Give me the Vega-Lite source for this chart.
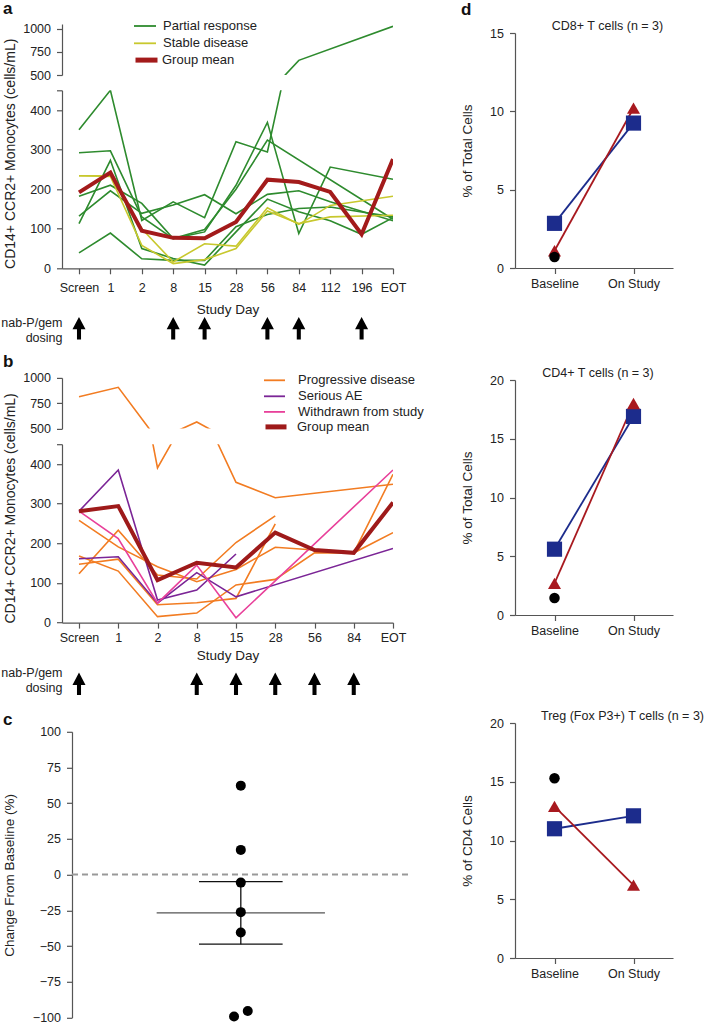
{
  "$schema": "https://vega.github.io/schema/vega-lite/v6.json",
  "padding": 0,
  "config": {
    "font": "Liberation Sans",
    "view": {"stroke": null},
    "axis": {"labelFontSize": 12.5, "titleFontSize": 13.5, "titleFontWeight": "normal", "labelColor": "#222", "titleColor": "#222", "domainColor": "#555", "tickColor": "#555", "tickSize": 5.5, "labelPadding": 6, "grid": false, "domainWidth": 1.2, "tickWidth": 1.2},
    "title": {"fontSize": 17, "fontWeight": "bold", "color": "#111"},
    "legend": {"labelFontSize": 13, "labelColor": "#222"}
  },
  "datasets": {
    "a": [
      {"pid": "PR1", "group": "Partial response", "day": "Screen", "value": 350},
      {"pid": "PR1", "group": "Partial response", "day": "1", "value": 450},
      {"pid": "PR1", "group": "Partial response", "day": "2", "value": 121},
      {"pid": "PR1", "group": "Partial response", "day": "8", "value": 168},
      {"pid": "PR1", "group": "Partial response", "day": "15", "value": 128},
      {"pid": "PR1", "group": "Partial response", "day": "28", "value": 320},
      {"pid": "PR1", "group": "Partial response", "day": "56", "value": 294},
      {"pid": "PR1", "group": "Partial response", "day": "84", "value": 658},
      {"pid": "PR1", "group": "Partial response", "day": "EOT", "value": 1025},
      {"pid": "PR2", "group": "Partial response", "day": "Screen", "value": 292},
      {"pid": "PR2", "group": "Partial response", "day": "1", "value": 297},
      {"pid": "PR2", "group": "Partial response", "day": "2", "value": 130},
      {"pid": "PR2", "group": "Partial response", "day": "8", "value": 75},
      {"pid": "PR2", "group": "Partial response", "day": "15", "value": 92},
      {"pid": "PR2", "group": "Partial response", "day": "28", "value": 210},
      {"pid": "PR2", "group": "Partial response", "day": "56", "value": 369},
      {"pid": "PR2", "group": "Partial response", "day": "84", "value": 88},
      {"pid": "PR2", "group": "Partial response", "day": "112", "value": 256},
      {"pid": "PR2", "group": "Partial response", "day": "EOT", "value": 225},
      {"pid": "PR3", "group": "Partial response", "day": "Screen", "value": 182},
      {"pid": "PR3", "group": "Partial response", "day": "1", "value": 210},
      {"pid": "PR3", "group": "Partial response", "day": "2", "value": 164},
      {"pid": "PR3", "group": "Partial response", "day": "8", "value": 75},
      {"pid": "PR3", "group": "Partial response", "day": "15", "value": 98},
      {"pid": "PR3", "group": "Partial response", "day": "28", "value": 200},
      {"pid": "PR3", "group": "Partial response", "day": "56", "value": 324},
      {"pid": "PR3", "group": "Partial response", "day": "EOT", "value": 124},
      {"pid": "PR4", "group": "Partial response", "day": "Screen", "value": 132},
      {"pid": "PR4", "group": "Partial response", "day": "1", "value": 196},
      {"pid": "PR4", "group": "Partial response", "day": "2", "value": 139},
      {"pid": "PR4", "group": "Partial response", "day": "8", "value": 160},
      {"pid": "PR4", "group": "Partial response", "day": "15", "value": 186},
      {"pid": "PR4", "group": "Partial response", "day": "28", "value": 138},
      {"pid": "PR4", "group": "Partial response", "day": "56", "value": 187},
      {"pid": "PR4", "group": "Partial response", "day": "84", "value": 196},
      {"pid": "PR4", "group": "Partial response", "day": "112", "value": 168},
      {"pid": "PR4", "group": "Partial response", "day": "EOT", "value": 120},
      {"pid": "PR5", "group": "Partial response", "day": "Screen", "value": 113},
      {"pid": "PR5", "group": "Partial response", "day": "1", "value": 273},
      {"pid": "PR5", "group": "Partial response", "day": "2", "value": 50},
      {"pid": "PR5", "group": "Partial response", "day": "8", "value": 25},
      {"pid": "PR5", "group": "Partial response", "day": "15", "value": 8},
      {"pid": "PR5", "group": "Partial response", "day": "28", "value": 92},
      {"pid": "PR5", "group": "Partial response", "day": "56", "value": 175},
      {"pid": "PR5", "group": "Partial response", "day": "84", "value": 143},
      {"pid": "PR5", "group": "Partial response", "day": "112", "value": 120},
      {"pid": "PR5", "group": "Partial response", "day": "196", "value": 86},
      {"pid": "PR5", "group": "Partial response", "day": "EOT", "value": 128},
      {"pid": "PR6", "group": "Partial response", "day": "Screen", "value": 39},
      {"pid": "PR6", "group": "Partial response", "day": "1", "value": 89},
      {"pid": "PR6", "group": "Partial response", "day": "2", "value": 24},
      {"pid": "PR6", "group": "Partial response", "day": "8", "value": 20},
      {"pid": "PR6", "group": "Partial response", "day": "15", "value": 20},
      {"pid": "PR6", "group": "Partial response", "day": "28", "value": 105},
      {"pid": "PR6", "group": "Partial response", "day": "56", "value": 136},
      {"pid": "PR6", "group": "Partial response", "day": "84", "value": 151},
      {"pid": "PR6", "group": "Partial response", "day": "112", "value": 155},
      {"pid": "PR6", "group": "Partial response", "day": "EOT", "value": 130},
      {"pid": "SD1", "group": "Stable disease", "day": "Screen", "value": 234},
      {"pid": "SD1", "group": "Stable disease", "day": "1", "value": 234},
      {"pid": "SD1", "group": "Stable disease", "day": "2", "value": 100},
      {"pid": "SD1", "group": "Stable disease", "day": "8", "value": 16},
      {"pid": "SD1", "group": "Stable disease", "day": "15", "value": 62},
      {"pid": "SD1", "group": "Stable disease", "day": "28", "value": 56},
      {"pid": "SD1", "group": "Stable disease", "day": "56", "value": 153},
      {"pid": "SD1", "group": "Stable disease", "day": "84", "value": 111},
      {"pid": "SD1", "group": "Stable disease", "day": "112", "value": 159},
      {"pid": "SD1", "group": "Stable disease", "day": "EOT", "value": 182},
      {"pid": "SD2", "group": "Stable disease", "day": "Screen", "value": 234},
      {"pid": "SD2", "group": "Stable disease", "day": "1", "value": 232},
      {"pid": "SD2", "group": "Stable disease", "day": "2", "value": 58},
      {"pid": "SD2", "group": "Stable disease", "day": "8", "value": 12},
      {"pid": "SD2", "group": "Stable disease", "day": "15", "value": 22},
      {"pid": "SD2", "group": "Stable disease", "day": "28", "value": 50},
      {"pid": "SD2", "group": "Stable disease", "day": "56", "value": 145},
      {"pid": "SD2", "group": "Stable disease", "day": "84", "value": 113},
      {"pid": "SD2", "group": "Stable disease", "day": "112", "value": 130},
      {"pid": "SD2", "group": "Stable disease", "day": "EOT", "value": 134},
      {"pid": "MEAN", "group": "Group mean", "day": "Screen", "value": 192},
      {"pid": "MEAN", "group": "Group mean", "day": "1", "value": 242},
      {"pid": "MEAN", "group": "Group mean", "day": "2", "value": 95},
      {"pid": "MEAN", "group": "Group mean", "day": "8", "value": 77},
      {"pid": "MEAN", "group": "Group mean", "day": "15", "value": 76},
      {"pid": "MEAN", "group": "Group mean", "day": "28", "value": 117},
      {"pid": "MEAN", "group": "Group mean", "day": "56", "value": 224},
      {"pid": "MEAN", "group": "Group mean", "day": "84", "value": 218},
      {"pid": "MEAN", "group": "Group mean", "day": "112", "value": 193},
      {"pid": "MEAN", "group": "Group mean", "day": "196", "value": 86},
      {"pid": "MEAN", "group": "Group mean", "day": "EOT", "value": 276}
    ],
    "b": [
      {"pid": "PD1", "group": "Progressive disease", "day": "Screen", "value": 815},
      {"pid": "PD1", "group": "Progressive disease", "day": "1", "value": 907},
      {"pid": "PD1", "group": "Progressive disease", "day": "2", "value": 390},
      {"pid": "PD1", "group": "Progressive disease", "day": "8", "value": 565},
      {"pid": "PD1", "group": "Progressive disease", "day": "15", "value": 354},
      {"pid": "PD1", "group": "Progressive disease", "day": "28", "value": 315},
      {"pid": "PD1", "group": "Progressive disease", "day": "EOT", "value": 349},
      {"pid": "PD2", "group": "Progressive disease", "day": "Screen", "value": 258},
      {"pid": "PD2", "group": "Progressive disease", "day": "1", "value": 191},
      {"pid": "PD2", "group": "Progressive disease", "day": "2", "value": 141},
      {"pid": "PD2", "group": "Progressive disease", "day": "8", "value": 103},
      {"pid": "PD2", "group": "Progressive disease", "day": "15", "value": 134},
      {"pid": "PD2", "group": "Progressive disease", "day": "28", "value": 190},
      {"pid": "PD2", "group": "Progressive disease", "day": "56", "value": 183},
      {"pid": "PD2", "group": "Progressive disease", "day": "84", "value": 176},
      {"pid": "PD2", "group": "Progressive disease", "day": "EOT", "value": 374},
      {"pid": "PD3", "group": "Progressive disease", "day": "Screen", "value": 123},
      {"pid": "PD3", "group": "Progressive disease", "day": "1", "value": 233},
      {"pid": "PD3", "group": "Progressive disease", "day": "2", "value": 120},
      {"pid": "PD3", "group": "Progressive disease", "day": "8", "value": 110},
      {"pid": "PD3", "group": "Progressive disease", "day": "15", "value": 202},
      {"pid": "PD3", "group": "Progressive disease", "day": "28", "value": 269},
      {"pid": "PD4", "group": "Progressive disease", "day": "Screen", "value": 147},
      {"pid": "PD4", "group": "Progressive disease", "day": "1", "value": 160},
      {"pid": "PD4", "group": "Progressive disease", "day": "2", "value": 45},
      {"pid": "PD4", "group": "Progressive disease", "day": "8", "value": 50},
      {"pid": "PD4", "group": "Progressive disease", "day": "15", "value": 61},
      {"pid": "PD4", "group": "Progressive disease", "day": "28", "value": 249},
      {"pid": "PD5", "group": "Progressive disease", "day": "Screen", "value": 168},
      {"pid": "PD5", "group": "Progressive disease", "day": "1", "value": 130},
      {"pid": "PD5", "group": "Progressive disease", "day": "2", "value": 15},
      {"pid": "PD5", "group": "Progressive disease", "day": "8", "value": 24},
      {"pid": "PD5", "group": "Progressive disease", "day": "15", "value": 95},
      {"pid": "PD5", "group": "Progressive disease", "day": "28", "value": 109},
      {"pid": "PD5", "group": "Progressive disease", "day": "56", "value": 176},
      {"pid": "PD5", "group": "Progressive disease", "day": "84", "value": 176},
      {"pid": "PD5", "group": "Progressive disease", "day": "EOT", "value": 227},
      {"pid": "SAE1", "group": "Serious AE", "day": "Screen", "value": 281},
      {"pid": "SAE1", "group": "Serious AE", "day": "1", "value": 385},
      {"pid": "SAE1", "group": "Serious AE", "day": "2", "value": 57},
      {"pid": "SAE1", "group": "Serious AE", "day": "8", "value": 82},
      {"pid": "SAE1", "group": "Serious AE", "day": "15", "value": 173},
      {"pid": "SAE2", "group": "Serious AE", "day": "Screen", "value": 161},
      {"pid": "SAE2", "group": "Serious AE", "day": "1", "value": 166},
      {"pid": "SAE2", "group": "Serious AE", "day": "2", "value": 49},
      {"pid": "SAE2", "group": "Serious AE", "day": "8", "value": 126},
      {"pid": "SAE2", "group": "Serious AE", "day": "15", "value": 65},
      {"pid": "SAE2", "group": "Serious AE", "day": "EOT", "value": 187},
      {"pid": "WD1", "group": "Withdrawn from study", "day": "Screen", "value": 281},
      {"pid": "WD1", "group": "Withdrawn from study", "day": "1", "value": 212},
      {"pid": "WD1", "group": "Withdrawn from study", "day": "2", "value": 49},
      {"pid": "WD1", "group": "Withdrawn from study", "day": "8", "value": 145},
      {"pid": "WD1", "group": "Withdrawn from study", "day": "15", "value": 12},
      {"pid": "WD1", "group": "Withdrawn from study", "day": "EOT", "value": 385},
      {"pid": "MEAN", "group": "Group mean", "day": "Screen", "value": 281},
      {"pid": "MEAN", "group": "Group mean", "day": "1", "value": 294},
      {"pid": "MEAN", "group": "Group mean", "day": "2", "value": 107},
      {"pid": "MEAN", "group": "Group mean", "day": "8", "value": 151},
      {"pid": "MEAN", "group": "Group mean", "day": "15", "value": 139},
      {"pid": "MEAN", "group": "Group mean", "day": "28", "value": 227},
      {"pid": "MEAN", "group": "Group mean", "day": "56", "value": 183},
      {"pid": "MEAN", "group": "Group mean", "day": "84", "value": 176},
      {"pid": "MEAN", "group": "Group mean", "day": "EOT", "value": 303}
    ],
    "dose_a": [{"day": "Screen"}, {"day": "8"}, {"day": "15"}, {"day": "56"}, {"day": "84"}, {"day": "196"}],
    "dose_b": [{"day": "Screen"}, {"day": "8"}, {"day": "15"}, {"day": "28"}, {"day": "56"}, {"day": "84"}],
    "c_pts": [
      {"pct": 62.3, "jit": 0}, {"pct": 17.3, "jit": 0}, {"pct": -5.6, "jit": 0}, {"pct": -26.3, "jit": 0},
      {"pct": -40.6, "jit": 0}, {"pct": -99.4, "jit": -0.039}, {"pct": -95.5, "jit": 0.04}
    ],
    "c_mean": [{"stat": "mean", "x1": -0.485, "x2": 0.485, "y1": -26.8, "y2": -26.8}],
    "c_err": [
      {"stat": "upper cap", "x1": -0.241, "x2": 0.241, "y1": -4.9, "y2": -4.9},
      {"stat": "lower cap", "x1": -0.241, "x2": 0.241, "y1": -48.7, "y2": -48.7},
      {"stat": "whisker", "x1": 0, "x2": 0, "y1": -48.7, "y2": -4.9}
    ],
    "d": [
      {"panel": "CD8", "subject": "P3", "time": "Baseline", "pct": 2.85},
      {"panel": "CD8", "subject": "P3", "time": "On Study", "pct": 9.25},
      {"panel": "CD8", "subject": "P2", "time": "Baseline", "pct": 1.1},
      {"panel": "CD8", "subject": "P2", "time": "On Study", "pct": 10.2},
      {"panel": "CD8", "subject": "P1", "time": "Baseline", "pct": 0.7},
      {"panel": "CD4", "subject": "P3", "time": "Baseline", "pct": 5.6},
      {"panel": "CD4", "subject": "P3", "time": "On Study", "pct": 16.9},
      {"panel": "CD4", "subject": "P2", "time": "Baseline", "pct": 2.7},
      {"panel": "CD4", "subject": "P2", "time": "On Study", "pct": 18.0},
      {"panel": "CD4", "subject": "P1", "time": "Baseline", "pct": 1.45},
      {"panel": "Treg", "subject": "P3", "time": "Baseline", "pct": 11.0},
      {"panel": "Treg", "subject": "P3", "time": "On Study", "pct": 12.1},
      {"panel": "Treg", "subject": "P2", "time": "Baseline", "pct": 12.9},
      {"panel": "Treg", "subject": "P2", "time": "On Study", "pct": 6.2},
      {"panel": "Treg", "subject": "P1", "time": "Baseline", "pct": 15.3}
    ]
  },
  "hconcat": [
    {
      "bounds": "flush",
      "spacing": 15.3,
      "resolve": {"scale": {"x": "independent", "y": "independent", "color": "independent"}},
      "vconcat": [
        {
          "width": 331, "height": 51,
          "title": {"text": "a", "anchor": "start", "frame": "group", "dx": -59, "offset": -4},
          "data": {"name": "a"},
          "encoding": {
            "x": {"field": "day", "type": "ordinal", "sort": ["Screen","1","2","8","15","28","56","84","112","196","EOT"], "scale": {"type": "point", "domain": ["Screen","1","2","8","15","28","56","84","112","196","EOT"], "padding": 0.2707, "align": 1}, "axis": null},
            "y": {"field": "value", "type": "quantitative", "scale": {"domain": [500, 1050], "nice": false, "zero": false}, "axis": {"values": [500, 750, 1000], "format": "d", "title": null}}
          },
          "layer": [
            {"transform": [{"filter": "datum.group === 'Partial response'"}], "mark": {"type": "line", "clip": true, "strokeWidth": 1.6},
             "encoding": {"detail": {"field": "pid", "type": "nominal"},
               "color": {"field": "group", "type": "nominal", "scale": {"domain": ["Partial response"], "range": ["#2e8b2e"]}, "legend": {"orient": "none", "legendX": 71, "legendY": -10, "title": null, "symbolType": "stroke", "symbolSize": 484, "symbolStrokeWidth": 1.8, "labelFontSize": 13, "labelOffset": 6, "padding": 0}}}},
            {"transform": [{"filter": "datum.group === 'Stable disease'"}], "mark": {"type": "line", "clip": true, "strokeWidth": 1.6},
             "encoding": {"detail": {"field": "pid", "type": "nominal"},
               "color": {"field": "group", "type": "nominal", "scale": {"domain": ["Stable disease"], "range": ["#c8c82e"]}, "legend": {"orient": "none", "legendX": 71, "legendY": 7.3, "title": null, "symbolType": "stroke", "symbolSize": 484, "symbolStrokeWidth": 1.8, "labelFontSize": 13, "labelOffset": 6, "padding": 0}}}},
            {"transform": [{"filter": "datum.group === 'Group mean'"}], "mark": {"type": "line", "clip": true, "strokeWidth": 4},
             "encoding": {
               "color": {"field": "group", "type": "nominal", "scale": {"domain": ["Group mean"], "range": ["#a31b1b"]}, "legend": {"orient": "none", "legendX": 71, "legendY": 22.6, "title": null, "symbolType": "stroke", "symbolSize": 484, "symbolStrokeWidth": 5, "labelFontSize": 13, "labelOffset": 2, "padding": 0}}}}
          ],
          "resolve": {"scale": {"color": "independent"}}
        },
        {
          "width": 331, "height": 178,
          "data": {"name": "a"},
          "encoding": {
            "x": {"field": "day", "type": "ordinal", "sort": ["Screen","1","2","8","15","28","56","84","112","196","EOT"], "scale": {"type": "point", "domain": ["Screen","1","2","8","15","28","56","84","112","196","EOT"], "padding": 0.2707, "align": 1}, "axis": {"title": "Study Day", "labelAngle": 0, "labelPadding": 7.8, "titlePadding": 8}},
            "y": {"field": "value", "type": "quantitative", "scale": {"domain": [0, 450], "nice": false}, "axis": {"values": [0, 100, 200, 300, 400, 450], "labelExpr": "datum.value == 450 ? '' : datum.label", "title": "CD14+ CCR2+ Monocytes (cells/mL)", "titleFontSize": 14, "titleX": -45, "titleY": 63}}
          },
          "layer": [
            {"transform": [{"filter": "datum.group !== 'Group mean'"}], "mark": {"type": "line", "clip": true, "strokeWidth": 1.6},
             "encoding": {"detail": {"field": "pid", "type": "nominal"},
               "color": {"field": "group", "type": "nominal", "scale": {"domain": ["Partial response", "Stable disease"], "range": ["#2e8b2e", "#c8c82e"]}, "legend": null}}},
            {"transform": [{"filter": "datum.group === 'Group mean'"}], "mark": {"type": "line", "clip": true, "strokeWidth": 4, "color": "#a31b1b"}}
          ]
        },
        {
          "width": 331, "height": 78.7,
          "data": {"name": "dose_a"},
          "mark": {"type": "point", "shape": "M-0.18,1L0.18,1L0.18,0.1L0.58,0.1L0,-1L-0.58,0.1L-0.18,0.1Z", "filled": true, "color": "#000", "opacity": 1, "size": 506},
          "encoding": {
            "x": {"field": "day", "type": "ordinal", "sort": ["Screen","1","2","8","15","28","56","84","112","196","EOT"], "scale": {"type": "point", "domain": ["Screen","1","2","8","15","28","56","84","112","196","EOT"], "padding": 0.2707, "align": 1}, "axis": null},
            "y": {"datum": 0.433, "type": "quantitative", "scale": {"domain": [0, 1]}, "axis": {"title": ["nab-P/gem", "dosing"], "titleAngle": 0, "titleAlign": "right", "titleBaseline": "middle", "titleX": 0, "titleY": 38.7, "titleFontSize": 12.5, "titleLineHeight": 15, "domain": false, "ticks": false, "labels": false}}
          }
        },
        {
          "width": 331, "height": 50.7,
          "title": {"text": "b", "anchor": "start", "frame": "group", "dx": -59, "offset": -2},
          "data": {"name": "b"},
          "encoding": {
            "x": {"field": "day", "type": "ordinal", "sort": ["Screen","1","2","8","15","28","56","84","EOT"], "scale": {"type": "point", "domain": ["Screen","1","2","8","15","28","56","84","EOT"], "padding": 0.2166, "align": 1}, "axis": null},
            "y": {"field": "value", "type": "quantitative", "scale": {"domain": [500, 1000], "nice": false, "zero": false}, "axis": {"values": [500, 750, 1000], "format": "d", "title": null}}
          },
          "layer": [
            {"transform": [{"filter": "datum.group === 'Progressive disease'"}], "mark": {"type": "line", "clip": true, "strokeWidth": 1.6},
             "encoding": {"detail": {"field": "pid", "type": "nominal"},
               "color": {"field": "group", "type": "nominal", "scale": {"domain": ["Progressive disease"], "range": ["#f27c22"]}, "legend": {"orient": "none", "legendX": 201, "legendY": -9.1, "title": null, "symbolType": "stroke", "symbolSize": 441, "symbolStrokeWidth": 1.8, "labelFontSize": 13, "labelOffset": 12, "padding": 0}}}},
            {"transform": [{"filter": "datum.group === 'Serious AE'"}], "mark": {"type": "line", "clip": true, "strokeWidth": 1.6},
             "encoding": {"detail": {"field": "pid", "type": "nominal"},
               "color": {"field": "group", "type": "nominal", "scale": {"domain": ["Serious AE"], "range": ["#7b2596"]}, "legend": {"orient": "none", "legendX": 201, "legendY": 6.9, "title": null, "symbolType": "stroke", "symbolSize": 441, "symbolStrokeWidth": 1.8, "labelFontSize": 13, "labelOffset": 12, "padding": 0}}}},
            {"transform": [{"filter": "datum.group === 'Withdrawn from study'"}], "mark": {"type": "line", "clip": true, "strokeWidth": 1.6},
             "encoding": {"detail": {"field": "pid", "type": "nominal"},
               "color": {"field": "group", "type": "nominal", "scale": {"domain": ["Withdrawn from study"], "range": ["#e8409a"]}, "legend": {"orient": "none", "legendX": 201, "legendY": 22.5, "title": null, "symbolType": "stroke", "symbolSize": 441, "symbolStrokeWidth": 1.8, "labelFontSize": 13, "labelOffset": 12, "padding": 0}}}},
            {"transform": [{"filter": "datum.group === 'Group mean'"}], "mark": {"type": "line", "clip": true, "strokeWidth": 4},
             "encoding": {
               "color": {"field": "group", "type": "nominal", "scale": {"domain": ["Group mean"], "range": ["#9e1a1a"]}, "legend": {"orient": "none", "legendX": 201, "legendY": 36, "title": null, "symbolType": "stroke", "symbolSize": 441, "symbolStrokeWidth": 5, "labelFontSize": 13, "labelOffset": 8, "padding": 0}}}}
          ],
          "resolve": {"scale": {"color": "independent"}}
        },
        {
          "width": 331, "height": 178.4,
          "data": {"name": "b"},
          "encoding": {
            "x": {"field": "day", "type": "ordinal", "sort": ["Screen","1","2","8","15","28","56","84","EOT"], "scale": {"type": "point", "domain": ["Screen","1","2","8","15","28","56","84","EOT"], "padding": 0.2166, "align": 1}, "axis": {"title": "Study Day", "labelAngle": 0, "labelPadding": 3.4, "titlePadding": 4}},
            "y": {"field": "value", "type": "quantitative", "scale": {"domain": [0, 450], "nice": false}, "axis": {"values": [0, 100, 200, 300, 400, 450], "labelExpr": "datum.value == 450 ? '' : datum.label", "title": "CD14+ CCR2+ Monocytes (cells/mL)", "titleFontSize": 14, "titleX": -45, "titleY": 63.7}}
          },
          "layer": [
            {"transform": [{"filter": "datum.group !== 'Group mean'"}], "mark": {"type": "line", "clip": true, "strokeWidth": 1.6},
             "encoding": {"detail": {"field": "pid", "type": "nominal"},
               "color": {"field": "group", "type": "nominal", "scale": {"domain": ["Progressive disease", "Serious AE", "Withdrawn from study"], "range": ["#f27c22", "#7b2596", "#e8409a"]}, "legend": null}}},
            {"transform": [{"filter": "datum.group === 'Group mean'"}], "mark": {"type": "line", "clip": true, "strokeWidth": 4, "color": "#9e1a1a"}}
          ]
        },
        {
          "width": 331, "height": 77.4,
          "data": {"name": "dose_b"},
          "mark": {"type": "point", "shape": "M-0.18,1L0.18,1L0.18,0.1L0.58,0.1L0,-1L-0.58,0.1L-0.18,0.1Z", "filled": true, "color": "#000", "opacity": 1, "size": 506},
          "encoding": {
            "x": {"field": "day", "type": "ordinal", "sort": ["Screen","1","2","8","15","28","56","84","EOT"], "scale": {"type": "point", "domain": ["Screen","1","2","8","15","28","56","84","EOT"], "padding": 0.2166, "align": 1}, "axis": null},
            "y": {"datum": 0.415, "type": "quantitative", "scale": {"domain": [0, 1]}, "axis": {"title": ["nab-P/gem", "dosing"], "titleAngle": 0, "titleAlign": "right", "titleBaseline": "middle", "titleX": 0, "titleY": 34.4, "titleFontSize": 12.5, "titleLineHeight": 15, "domain": false, "ticks": false, "labels": false}}
          }
        },
        {
          "width": 347, "height": 285.6,
          "title": {"text": "c", "anchor": "start", "frame": "group", "dx": -59, "offset": -3},
          "encoding": {
            "x": {"type": "quantitative", "scale": {"domain": [-1.0306, 0.9694], "nice": false, "zero": false}, "axis": null},
            "y": {"type": "quantitative", "scale": {"domain": [-100, 100], "nice": false}, "axis": {"values": [-100, -75, -50, -25, 0, 25, 50, 75, 100], "labelOverlap": false, "offset": -10, "title": "Change From Baseline (%)", "titleX": -55.5, "titleY": 143}}
          },
          "layer": [
            {
              "data": {"name": "c_mean"},
              "mark": {"type": "rule", "color": "#999", "strokeDash": [6, 4], "strokeWidth": 2},
              "encoding": {"y": {"datum": 0}, "x": {"datum": -0.973}, "x2": {"datum": 0.9694}}
            },
            {
              "data": {"name": "c_mean"},
              "mark": {"type": "rule", "color": "#555", "strokeWidth": 1.3},
              "encoding": {"x": {"field": "x1"}, "x2": {"field": "x2"}, "y": {"field": "y1"}, "y2": {"field": "y2"}}
            },
            {
              "data": {"name": "c_err"},
              "mark": {"type": "rule", "color": "#111", "strokeWidth": 1.3},
              "encoding": {"x": {"field": "x1"}, "x2": {"field": "x2"}, "y": {"field": "y1"}, "y2": {"field": "y2"}}
            },
            {
              "data": {"name": "c_pts"},
              "mark": {"type": "circle", "color": "#000", "opacity": 1, "size": 100},
              "encoding": {"x": {"field": "jit"}, "y": {"field": "pct"}}
            }
          ]
        }
      ]
    },
    {
      "title": {"text": "d", "anchor": "start", "offset": 1},
      "bounds": "flush",
      "spacing": 8,
      "resolve": {"scale": {"x": "independent", "y": "independent"}},
      "vconcat": [
        {"width": 1, "height": 1, "data": {"values": [{}]}, "mark": {"type": "point", "opacity": 0}, "encoding": {}},
        {
          "width": 158, "height": 235,
          "title": {"text": "CD8+ T cells (n = 3)", "fontSize": 12.5, "fontWeight": "normal", "color": "#222", "anchor": "middle", "dx": 13.5, "offset": -5.3},
          "data": {"name": "d"},
          "transform": [{"filter": "datum.panel === 'CD8'"}],
          "encoding": {
            "x": {"field": "time", "type": "nominal", "sort": ["Baseline", "On Study"], "scale": {"type": "point", "domain": ["Baseline", "On Study"], "padding": 0.5}, "axis": {"title": null, "labelAngle": 0, "labelPadding": 4}},
            "y": {"field": "pct", "type": "quantitative", "scale": {"domain": [0, 15], "nice": false}, "axis": {"values": [0, 5, 10, 15], "title": "% of Total Cells", "titlePadding": 14.7}},
            "color": {"field": "subject", "type": "nominal", "scale": {"domain": ["P1", "P2", "P3"], "range": ["#000000", "#a8191f", "#1c2c8c"]}, "legend": null}
          },
          "layer": [
            {"transform": [{"filter": "datum.subject !== 'P1'"}], "mark": {"type": "line", "strokeWidth": 1.8}},
            {"mark": {"type": "point", "filled": true, "opacity": 1}, "encoding": {"shape": {"field": "subject", "type": "nominal", "scale": {"domain": ["P1", "P2", "P3"], "range": ["circle", "triangle-up", "square"]}, "legend": null}, "size": {"field": "subject", "type": "nominal", "scale": {"domain": ["P1", "P2", "P3"], "range": [110, 230, 160]}, "legend": null}}}
          ]
        },
        {"width": 1, "height": 95.6, "data": {"values": [{}]}, "mark": {"type": "point", "opacity": 0}, "encoding": {}},
        {
          "width": 158, "height": 235,
          "title": {"text": "CD4+ T cells (n = 3)", "fontSize": 12.5, "fontWeight": "normal", "color": "#222", "anchor": "middle", "dx": 4, "offset": -5.3},
          "data": {"name": "d"},
          "transform": [{"filter": "datum.panel === 'CD4'"}],
          "encoding": {
            "x": {"field": "time", "type": "nominal", "sort": ["Baseline", "On Study"], "scale": {"type": "point", "domain": ["Baseline", "On Study"], "padding": 0.5}, "axis": {"title": null, "labelAngle": 0, "labelPadding": 4}},
            "y": {"field": "pct", "type": "quantitative", "scale": {"domain": [0, 20], "nice": false}, "axis": {"values": [0, 5, 10, 15, 20], "title": "% of Total Cells", "titlePadding": 14.7}},
            "color": {"field": "subject", "type": "nominal", "scale": {"domain": ["P1", "P2", "P3"], "range": ["#000000", "#a8191f", "#1c2c8c"]}, "legend": null}
          },
          "layer": [
            {"transform": [{"filter": "datum.subject !== 'P1'"}], "mark": {"type": "line", "strokeWidth": 1.8}},
            {"mark": {"type": "point", "filled": true, "opacity": 1}, "encoding": {"shape": {"field": "subject", "type": "nominal", "scale": {"domain": ["P1", "P2", "P3"], "range": ["circle", "triangle-up", "square"]}, "legend": null}, "size": {"field": "subject", "type": "nominal", "scale": {"domain": ["P1", "P2", "P3"], "range": [110, 230, 160]}, "legend": null}}}
          ]
        },
        {"width": 1, "height": 92, "data": {"values": [{}]}, "mark": {"type": "point", "opacity": 0}, "encoding": {}},
        {
          "width": 158, "height": 235,
          "title": {"text": "Treg (Fox P3+) T cells (n = 3)", "fontSize": 12.5, "fontWeight": "normal", "color": "#222", "anchor": "middle", "dx": 28.5, "offset": -5.3},
          "data": {"name": "d"},
          "transform": [{"filter": "datum.panel === 'Treg'"}],
          "encoding": {
            "x": {"field": "time", "type": "nominal", "sort": ["Baseline", "On Study"], "scale": {"type": "point", "domain": ["Baseline", "On Study"], "padding": 0.5}, "axis": {"title": null, "labelAngle": 0, "labelPadding": 4}},
            "y": {"field": "pct", "type": "quantitative", "scale": {"domain": [0, 20], "nice": false}, "axis": {"values": [0, 5, 10, 15, 20], "title": "% of CD4 Cells", "titlePadding": 14.7}},
            "color": {"field": "subject", "type": "nominal", "scale": {"domain": ["P1", "P2", "P3"], "range": ["#000000", "#a8191f", "#1c2c8c"]}, "legend": null}
          },
          "layer": [
            {"transform": [{"filter": "datum.subject !== 'P1'"}], "mark": {"type": "line", "strokeWidth": 1.8}},
            {"mark": {"type": "point", "filled": true, "opacity": 1}, "encoding": {"shape": {"field": "subject", "type": "nominal", "scale": {"domain": ["P1", "P2", "P3"], "range": ["circle", "triangle-up", "square"]}, "legend": null}, "size": {"field": "subject", "type": "nominal", "scale": {"domain": ["P1", "P2", "P3"], "range": [110, 230, 160]}, "legend": null}}}
          ]
        }
      ]
    }
  ],
  "spacing": 36,
  "align": "none",
  "resolve": {"scale": {"x": "independent", "y": "independent", "color": "independent", "shape": "independent", "size": "independent"}}
}
